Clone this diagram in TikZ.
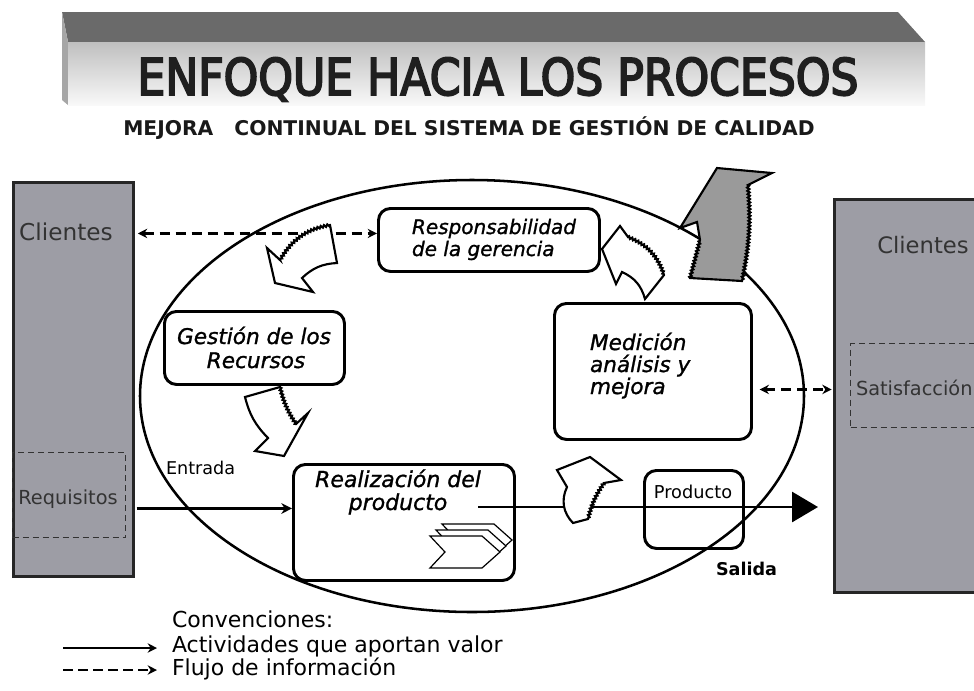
\documentclass[tikz,border=0pt]{standalone}
\usepackage{fontspec}
\setmainfont{DejaVu Sans}
\newfontfamily\titlef[FakeStretch=0.87,FakeBold=3.5]{DejaVu Sans}
\newfontfamily\itf[FakeBold=1.2]{DejaVu Sans Oblique}
\usetikzlibrary{shapes.geometric,arrows.meta,decorations.pathmorphing,calc}
\definecolor{boxgray}{HTML}{9D9DA5}
\definecolor{topgray}{HTML}{6A6A6A}
\definecolor{txtgray}{HTML}{333333}
\definecolor{arrgray}{HTML}{9A9A9A}
\begin{document}
\begin{tikzpicture}[x=0.75pt,y=-0.75pt,
  lbl/.style={inner sep=0pt, outer sep=0pt},
  clientbox/.style={draw=black!85, fill=boxgray, line width=2.4pt, inner sep=0pt, anchor=north west},
  dbox/.style={draw=black!80, dash pattern=on 4.5pt off 3pt, line width=1.1pt, inner sep=0pt, anchor=north west},
  pbox/.style={draw, line width=2.2pt, rounded corners=9pt, fill=white, inner sep=0pt, anchor=north west},
  infoarrow/.style={line width=1.9pt, dash pattern=on 7.5pt off 4.5pt, {Stealth[length=7pt,width=7pt]}-{Stealth[length=7pt,width=7pt]}},
  valarrow/.style={line width=2.2pt, -{Stealth[length=8pt,width=8pt]}},
  blockarrow/.style={draw, line width=1.6pt, fill=white, line join=miter},
  jagdec/.style={decoration={zigzag, segment length=2.5pt, amplitude=0.8pt}},
  itxt/.style={lbl, font=\itf}
]
\useasboundingbox (0,0) rectangle (974,690);

% ---- title bar ----
\fill[topgray] (62,12) -- (898,12) -- (925,42) -- (68,42) -- cycle;
\fill[gray!70] (62,12) -- (68,42) -- (68,105) -- (62,100) -- cycle;
\shade[top color=gray!50, bottom color=gray!5] (68,42) rectangle (925,105);
\node[lbl, anchor=base, text=black!88] (title) at (498,95)
  {\titlef\fontsize{38}{40}\selectfont ENFOQUE HACIA LOS PROCESOS};
\node[lbl, anchor=base, text=black!90] (sub) at (469,135)
  {\bfseries\fontsize{15.2}{17}\selectfont MEJORA\hspace{1.04em}CONTINUAL DEL SISTEMA DE GESTIÓN DE CALIDAD};

% ---- clients ----
\node[clientbox, minimum width=90pt, minimum height=295.5pt] (cliL) at (12,181) {};
\node[dbox, minimum width=84.75pt, minimum height=63.75pt] (req) at (12,452) {};
\node[lbl, anchor=base, text=txtgray] (cliLt) at (66,240) {\fontsize{17.4}{19}\selectfont Clientes};
\node[lbl, anchor=base, text=txtgray] (reqt) at (68,504) {\fontsize{14.5}{16}\selectfont Requisitos};

\node[clientbox, minimum width=120pt, minimum height=294.75pt] (cliR) at (833,198) {};
\node[dbox, minimum width=105pt, minimum height=63pt] (sat) at (850,343) {};
\node[lbl, anchor=base, text=txtgray] (cliRt) at (923,253) {\fontsize{17}{19}\selectfont Clientes};
\node[lbl, anchor=base west, text=txtgray] (satt) at (856,395) {\fontsize{14.5}{16}\selectfont Satisfacción};

% ---- cycle ellipse ----
\node[ellipse, draw, line width=1.9pt, minimum width=498pt, minimum height=324pt, inner sep=0pt] (ciclo) at (472,396) {};

% ---- process boxes ----
\node[pbox, minimum width=165.75pt, minimum height=47.25pt] (resp) at (377,207) {};
\node[itxt, anchor=base west] at (412,234) {\fontsize{15}{17}\selectfont Responsabilidad};
\node[itxt, anchor=base west] at (412,256) {\fontsize{15}{17}\selectfont de la gerencia};

\node[pbox, minimum width=135pt, minimum height=54.75pt] (gest) at (163,310) {};
\node[itxt, anchor=base] at (254,344) {\fontsize{16.2}{18}\selectfont Gestión de los};
\node[itxt, anchor=base] at (256,368) {\fontsize{16.2}{18}\selectfont Recursos};

\node[pbox, minimum width=147.75pt, minimum height=102pt] (med) at (553,302) {};
\node[itxt, anchor=base west] at (590,350) {\fontsize{16.2}{18}\selectfont Medición};
\node[itxt, anchor=base west] at (590,372) {\fontsize{16.2}{18}\selectfont análisis y};
\node[itxt, anchor=base west] at (590,394) {\fontsize{16.2}{18}\selectfont mejora};

\node[pbox, minimum width=165.75pt, minimum height=87pt] (real) at (292,463) {};
\node[itxt, anchor=base] at (398,487) {\fontsize{16.5}{18}\selectfont Realización del};
\node[itxt, anchor=base] at (398,510) {\fontsize{16.5}{18}\selectfont producto};

\node[pbox, fill=none, minimum width=74.25pt, minimum height=58.5pt] (prod) at (643,469) {};
\node[lbl, anchor=base] at (693,498) {\fontsize{13.3}{15}\selectfont Producto};

\node[lbl, anchor=base west] (salida) at (716,575) {\bfseries\fontsize{13.2}{15}\selectfont Salida};
\node[lbl, anchor=base west] (entrada) at (166,474) {\fontsize{13.2}{15}\selectfont Entrada};

% chevrons
\foreach \dx/\dy in {12/-12, 6/-6, 0/0}{
  \begin{scope}[shift={(\dx,\dy)}]
    \draw[line width=0.9pt, fill=white] (430,536) -- ++(52,0) -- ++(18,16) -- ++(-18,16) -- ++(-52,0) -- ++(15,-16) -- cycle;
  \end{scope}
}

% ---- information flows ----
\coordinate (r1) at ([yshift=4.9pt]resp.west);
\draw[infoarrow, shorten <=2pt] (r1 -| cliL.east) -- (r1);
\coordinate (m1) at ([yshift=-13.5pt,xshift=5pt]med.east);
\draw[infoarrow, shorten >=1pt] (m1) -- (m1 -| cliR.west);

% ---- value flows ----
\coordinate (rin) at ([yshift=10.5pt]real.west);
\draw[valarrow, shorten <=1pt] (rin -| cliL.east) -- (rin);
\coordinate (pout) at (478,507);
\coordinate (pend) at ($(cliR.west |- pout)+(-15,0)$);
\draw[line width=2.2pt, -{Triangle[length=19.5pt,width=22.5pt]}] (pout) -- (pend);

% ---- block arrows of the cycle ----
% Responsabilidad -> Gestion
\draw[blockarrow] (330,225) -- (337,263) to[bend right=20] (302,278) -- (313,292) -- (275,283) -- (267,248) -- (280,260)
  decorate[jagdec]{to[bend left=25] (330,225)} -- cycle;
% Gestion -> Realizacion
\draw[blockarrow] (280,387) -- (245,397) to[bend right=15] (268,438) -- (255,451) -- (284,456) -- (308,413) -- (296,424)
  decorate[jagdec]{to[bend left=10] (280,387)} -- cycle;
% Realizacion -> Medicion
\draw[blockarrow] (590,457) -- (621,480) -- (604,483) decorate[jagdec]{to[bend right=10] (588,519)}
  -- (573,523) to[bend left=35] (567,487) -- (557,470) -- cycle;
% Medicion -> Responsabilidad
\draw[blockarrow] (602,249) -- (620,226) -- (628,237) decorate[jagdec]{to[bend left=25] (664,275)}
  -- (645,299) to[bend right=25] (622,272) -- (616,284) -- cycle;
% mejora continua (gray)
\draw[line width=1.6pt, fill=arrgray, line join=miter] (717,168) -- (772,173) -- (748,185)
  decorate[jagdec]{to[bend left=8] (742,281)} -- (690,278) decorate[jagdec]{-- (700,240)}
  -- (697,222) -- (680,228) -- cycle;

% ---- legend ----
\node[lbl, anchor=base west] (conv) at (172,627) {\fontsize{16.5}{18}\selectfont Convenciones:};
\node[lbl, anchor=base west] (lega) at (172,652) {\fontsize{16.5}{18}\selectfont Actividades que aportan valor};
\node[lbl, anchor=base west] (legb) at (172,675) {\fontsize{16.5}{18}\selectfont Flujo de información};
\coordinate (la1) at (63,648); \coordinate (la2) at (157,648);
\draw[line width=2pt, -{Stealth[length=7pt,width=7pt]}] (la1) -- (la2);
\coordinate (lb1) at (63,670); \coordinate (lb2) at (157,670);
\draw[line width=2pt, dash pattern=on 7.5pt off 3.75pt, -{Stealth[length=7pt,width=7pt]}] (lb1) -- (lb2);
\end{tikzpicture}
\end{document}
